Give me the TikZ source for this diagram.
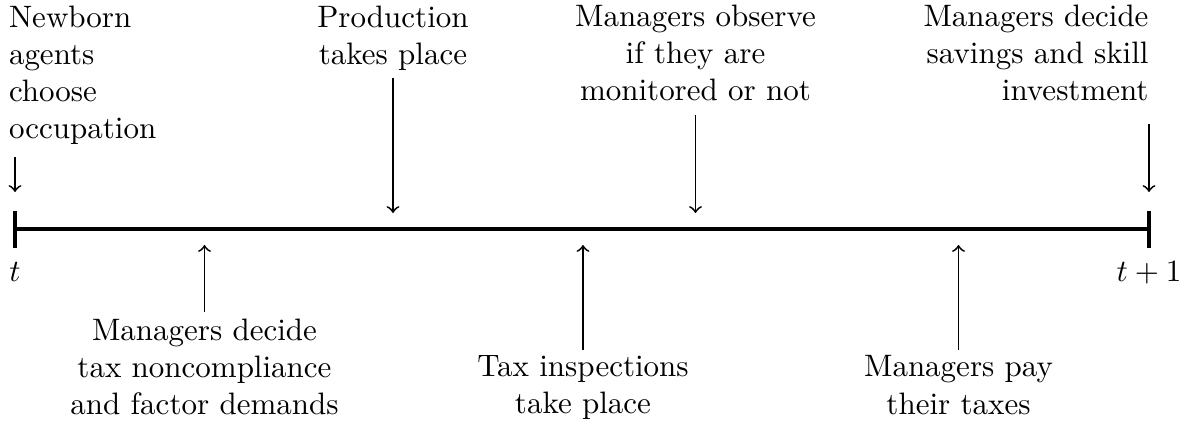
\documentclass[tikz,border=0pt]{standalone}
\begin{document}
\begin{tikzpicture}[x=0.3226pt,y=-0.3226pt,
  lbl/.style={inner sep=0pt, outer sep=0pt, align=center},
  evt/.style={->, line width=0.6pt},
  axisline/.style={line width=1.3pt},
]
\useasboundingbox (0,0) rectangle (1188,428);
% timeline
\coordinate (L) at (15,229);
\coordinate (R) at (1149,229);
\coordinate (Lt) at (15,211);
\coordinate (Lb) at (15,248);
\coordinate (Rt) at (1149,211);
\coordinate (Rb) at (1149,248);
\draw[axisline] (L) -- (R);
\draw[axisline] (Lt) -- (Lb);
\draw[axisline] (Rt) -- (Rb);
\node[anchor=base] (tl) at (15,281) {$t$};
\node[anchor=base] (tr) at (1149,281) {$t+1$};
% top events
\node[lbl, align=left, anchor=north west] (n1) at (9,5.8) {Newborn\\agents\\choose\\occupation};
\coordinate (a1) at (15,192);
\draw[evt, shorten <=3.9pt] (n1.south -| a1) -- (a1);
\node[lbl, anchor=north] (n2) at (393,5.5) {Production\\takes place};
\coordinate (a2) at (393,213);
\draw[evt, shorten <=2.5pt] (n2.south) -- (a2);
\node[lbl, anchor=north] (n3) at (695.5,4.5) {Managers observe\\if they are\\monitored or not};
\coordinate (a3) at (695.5,213);
\draw[evt, shorten <=4.7pt] (n3.south) -- (a3);
\node[lbl, align=right, anchor=north east] (n4) at (1148.5,4.5) {Managers decide\\savings and skill\\investment};
\coordinate (a4) at (1149,192);
\draw[evt, shorten <=7.6pt] (n4.south -| a4) -- (a4);
% bottom events
\node[lbl, anchor=north] (b1) at (204.5,318.5) {Managers decide\\tax noncompliance\\and factor demands};
\coordinate (c1) at (204.5,245);
\draw[evt, shorten <=2.1pt] (b1.north) -- (c1);
\node[lbl, anchor=north] (b2) at (583,355.8) {Tax inspections\\take place};
\coordinate (c2) at (583,245);
\draw[evt, shorten <=1.9pt] (b2.north) -- (c2);
\node[lbl, anchor=north] (b3) at (958.5,355.8) {Managers pay\\their taxes};
\coordinate (c3) at (958.5,245);
\draw[evt, shorten <=1.9pt] (b3.north) -- (c3);
\end{tikzpicture}
\end{document}
